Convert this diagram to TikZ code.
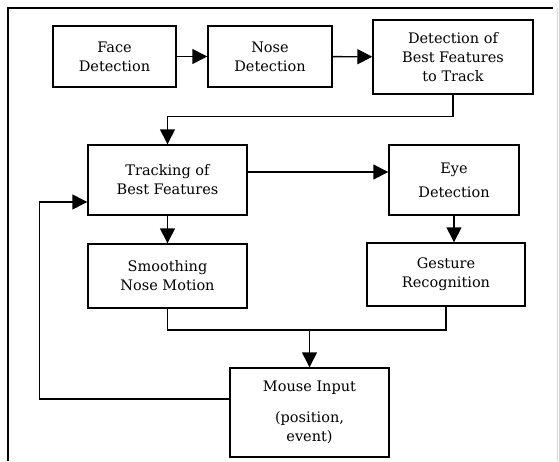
\documentclass[tikz,border=0pt]{standalone}
\usepackage{fontspec}
\setmainfont{DejaVu Serif}
\usetikzlibrary{arrows.meta}
\begin{document}
\begin{tikzpicture}[x=1pt,y=-1pt,
  box/.style={draw, line width=1.4pt, align=center, inner sep=0pt,
    font=\fontsize{14.5}{19}\selectfont},
  conn/.style={line width=1.4pt},
  arr/.style={conn, -{Triangle[length=15pt,width=15pt]}}]
\fill[white] (0,0) rectangle (559,461);
\useasboundingbox (0,0) rectangle (559,461);
% frame
\draw[line width=1.4pt] (8,461) -- (8,8) -- (553,8);
\draw[line width=0.8pt, black!15] (557,8) -- (557,461);
% nodes
\node[box, minimum width=123pt, minimum height=61pt] (face) at (114.5,56.5) {Face\\Detection};
\node[box, minimum width=124pt, minimum height=61pt] (nose) at (270,56.5) {Nose\\Detection};
\node[box, minimum width=160pt, minimum height=74pt] (best) at (453,57) {Detection of\\Best Features\\to Track};
\node[box, minimum width=159pt, minimum height=70pt] (track) at (167.5,180) {Tracking of\\Best Features};
\node[box, minimum width=130pt, minimum height=70pt] (eye) at (454,180) {Eye\\[5pt]Detection};
\node[box, minimum width=159pt, minimum height=64pt] (smooth) at (167.5,276) {Smoothing\\Nose Motion};
\node[box, minimum width=158pt, minimum height=63pt] (gesture) at (446,274.5) {Gesture\\Recognition};
\node[box, minimum width=159pt, minimum height=89pt] (mouse) at (309.5,412.5) {Mouse Input\\[12pt](position,\\event)};
% connectors
\draw[arr] (face) -- (nose);
\draw[arr] (nose) -- (best);
\draw[arr] (best.south) -- ++(0,22) -| (track.north);
\draw[arr] ([yshift=8pt]track.east) -- ([yshift=8pt]eye.west);
\draw[arr] (track.south) -- (smooth.north);
\draw[arr] (eye.south) -- (eye.south |- gesture.north);
\coordinate (m) at (311,330);
\draw[conn] (smooth.south) -- (smooth.south |- m) -- (gesture.south |- m) -- (gesture.south);
\draw[arr] (mouse.north |- m) -- (mouse.north);
\draw[arr] ([yshift=13.5pt]mouse.west) -- ++(-190,0) |- ([yshift=-22pt]track.west);
\end{tikzpicture}
\end{document}
